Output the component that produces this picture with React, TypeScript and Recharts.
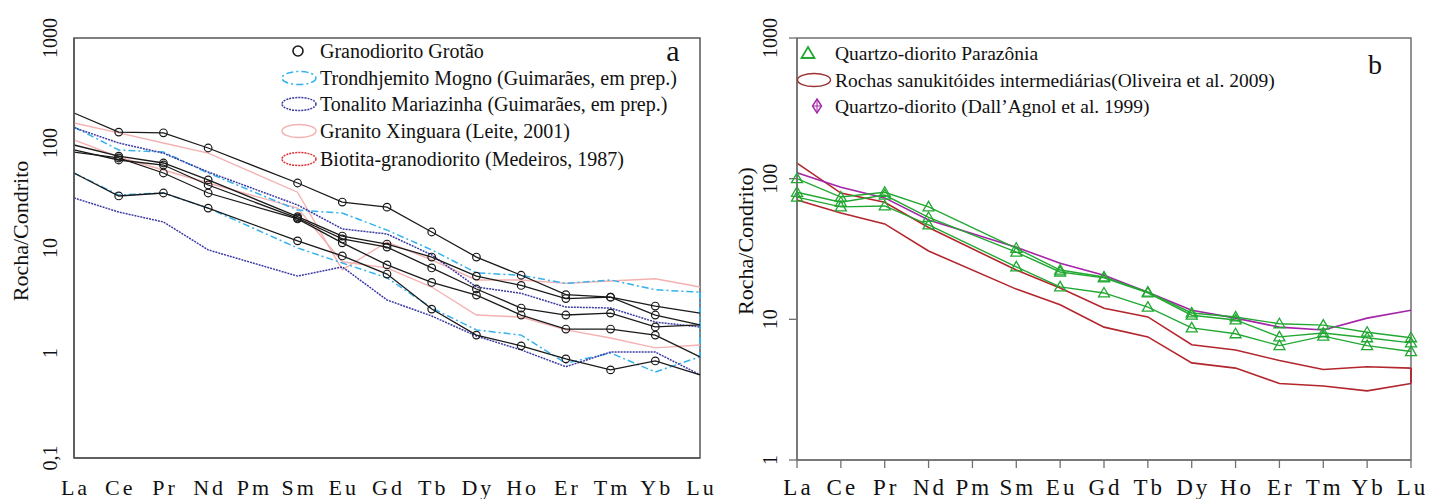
import React from 'react';
import { LineChart, Line, XAxis, YAxis, ReferenceArea, ReferenceLine, Legend, Label } from 'recharts';

const ELEMENTS = ['La', 'Ce', 'Pr', 'Nd', 'Pm', 'Sm', 'Eu', 'Gd', 'Tb', 'Dy', 'Ho', 'Er', 'Tm', 'Yb', 'Lu'];
const X_TICKS = [0, 1, 2, 3, 4, 5, 6, 7, 8, 9, 10, 11, 12, 13, 14];
const Y_TICKS_A = [0.1, 1, 10, 100, 1000];
const Y_TICKS_B = [1, 10, 100, 1000];

// ---- Panel a: Granodiorito Grotão samples ----
const grotao1 = [193, 127, 125, 89.6, null, 41.6, 27.4, 24.5, 14.2, 8.2, 5.5, 3.6, 3.4, 2.8, 2.4];
const grotao2 = [95.7, 75, 64.5, 44.5, null, 19.9, 13.0, 10.9, 8.2, 5.4, 4.4, 3.3, 3.4, 2.3, 1.85];
const grotao3 = [85.8, 68.9, 61.7, 39.8, null, 19.3, 12.2, 10.2, 6.46, 4.07, 2.68, 2.3, 2.4, 1.77, 1.85];
const grotao4 = [82, 72, 51.8, 33.4, null, 18.9, 11.2, 6.9, 4.7, 3.56, 2.3, 1.69, 1.69, 1.48, 0.92];
const grotao5 = [51.8, 31.3, 33.4, 24, null, 11.7, 8.4, 5.65, 2.62, 1.48, 1.17, 0.88, 0.69, 0.84, 0.62];
// Trondhjemito Mogno envelope
const mognoUpper = [142, 85.8, 82, 51.8, null, 23, 21.5, 14.8, 9.6, 5.8, 5.5, 4.6, 4.96, 4.0, 3.8];
const mognoLower = [51.8, 32, 33.4, 24, null, 10, 7.2, 5.2, 2.68, 1.66, 1.48, 0.8, 1.0, 0.66, 0.92];
// Tonalito Mariazinha envelope
const mariazinhaUpper = [140, 100, 80, 53, null, 25.7, 15.2, 13.6, 8.6, 4.25, 3.7, 2.74, 2.68, 1.97, 1.77];
const mariazinhaLower = [30, 22, 17.7, 9.6, null, 5.4, 6.6, 3.2, 2.25, 1.45, 1.07, 0.74, 1.02, 1.02, 0.62];
// Granito Xinguara envelope
const xinguaraUpper = [155, 125, 100, 80, null, 34, 6.2, 11.4, 7.7, 4.96, 4.96, 4.6, 4.85, 5.1, 4.25];
const xinguaraLower = [107, 73.6, 55.3, 41.6, null, 24, 7.4, 6.46, 4.25, 2.3, 2.2, 1.66, 1.39, 1.12, 1.19];

// ---- Panel b ----
const parazonia1 = [100, 74, 80, 63, null, 32, 22.4, 20, 15.6, 11.1, 10.4, 9.3, 9.1, 8.1, 7.4];
const parazonia2 = [80, 68, 76.5, 53, null, 30, 21.7, 19.7, 15.4, 10.7, 9.9, 7.5, 8, 7.4, 6.8];
const parazonia3 = [74, 63, 64, 46.9, null, 23.6, 17, 15.4, 12.2, 8.7, 7.9, 6.5, 7.6, 6.5, 5.9];
const sanukitoidUpper = [129, 79, 68, 45, null, 22.4, 16.7, 12, 10.4, 6.6, 6.05, 5.1, 4.4, 4.6, 4.5];
const sanukitoidLower = [70.5, 57, 47.7, 30.6, null, 16.4, 12.7, 8.8, 7.5, 4.9, 4.5, 3.5, 3.36, 3.1, 3.5];
const dallAgnol = [110, 87, 73, 50.8, null, 32.6, 25, 20.6, 15.6, 11.6, 10.2, 8.8, 8.4, 10.2, 11.6];

const LAST = ELEMENTS.length - 1;

const dataA = ELEMENTS.map((el, i) => ({
  idx: i, el,
  g1: grotao1[i], g2: grotao2[i], g3: grotao3[i], g4: grotao4[i], g5: grotao5[i],
  mu: mognoUpper[i], ml: mognoLower[i],
  tu: mariazinhaUpper[i], tl: mariazinhaLower[i],
  xu: xinguaraUpper[i], xl: xinguaraLower[i],
}));

const dataB = ELEMENTS.map((el, i) => ({
  idx: i, el,
  p1: parazonia1[i], p2: parazonia2[i], p3: parazonia3[i],
  su: sanukitoidUpper[i], sl: sanukitoidLower[i],
  da: dallAgnol[i],
}));

const SERIF = '"Liberation Serif", "Times New Roman", Times, serif';
const BLACK = '#1a1a1a';
const CYAN = '#35b2ee';
const NAVY = '#3b3ba3';
const PINK = '#f5b1b1';
const RED_DOT = '#e03030';
const GREEN = '#22a832';
const DARKRED = '#b3262d';
const MAGENTA = '#a424a8';
const AXIS_A = '#555';
const AXIS_B = '#707070';

const fmtY = (v: number) => (v === 0.1 ? '0,1' : String(v));

const CircleDot = (props: any) => {
  const { cx, cy, index, value } = props;
  if (value == null || cx == null || cy == null || index === 0 || index === LAST) return <g key={`c${index}`} />;
  return <circle key={`c${index}`} cx={cx} cy={cy} r={3.8} fill="none" stroke={BLACK} strokeWidth={1.2} />;
};

const TriDot = (props: any) => {
  const { cx, cy, index, value } = props;
  if (value == null || cx == null || cy == null) return <g key={`t${index}`} />;
  return (
    <path key={`t${index}`} d={`M${cx},${cy - 5.5} L${cx + 5.5},${cy + 4} L${cx - 5.5},${cy + 4} Z`}
      fill="none" stroke={GREEN} strokeWidth={1.3} />
  );
};

const XTick = (fontSize: number) => (props: any) => {
  const { x, payload } = props;
  return (
    <text x={x + 1.5} y={495} textAnchor="middle" fill="#111"
      style={{ fontFamily: SERIF, fontSize, letterSpacing: 3 }}>
      {ELEMENTS[payload.value]}
    </text>
  );
};

const YTick = (props: any) => {
  const { y, payload } = props;
  return (
    <text transform={`translate(50,${y}) rotate(-90)`} textAnchor="middle" dominantBaseline="central" fill="#111"
      style={{ fontFamily: SERIF, fontSize: 20 }}>
      {fmtY(payload.value)}
    </text>
  );
};

const YTitle = (text: string, x: number, y: number) => () => (
  <text transform={`translate(${x},${y}) rotate(-90)`} textAnchor="middle" dominantBaseline="central" fill="#111"
    style={{ fontFamily: SERIF, fontSize: 22 }}>
    {text}
  </text>
);

const legendTextStyle = { fontFamily: SERIF } as const;

const LegendA = () => {
  const rows = [
    'Granodiorito Grotão',
    'Trondhjemito Mogno (Guimarães, em prep.)',
    'Tonalito Mariazinha (Guimarães, em prep.)',
    'Granito Xinguara (Leite, 2001)',
    'Biotita-granodiorito (Medeiros, 1987)',
  ];
  const ys = [51, 78, 104, 131, 159];
  return (
    <svg width={720} height={180} style={{ display: 'block', overflow: 'visible' }}>
      <circle cx={298} cy={ys[0]} r={5} fill="none" stroke={BLACK} strokeWidth={1.6} />
      <ellipse cx={299} cy={ys[1]} rx={17} ry={6.5} fill="none" stroke={CYAN} strokeWidth={1.5} strokeDasharray="7 3 2 3" />
      <ellipse cx={299} cy={ys[2]} rx={17} ry={6.5} fill="none" stroke={NAVY} strokeWidth={1.5} strokeDasharray="2 1" />
      <ellipse cx={299} cy={ys[3]} rx={17} ry={6.5} fill="none" stroke={PINK} strokeWidth={1.5} />
      <ellipse cx={299} cy={ys[4]} rx={17} ry={6.5} fill="none" stroke={RED_DOT} strokeWidth={1.5} strokeDasharray="2 1" />
      {rows.map((r, i) => (
        <text key={r} x={320} y={ys[i]} dominantBaseline="central" fill="#111" style={{ ...legendTextStyle, fontSize: 20 }}>{r}</text>
      ))}
      <text x={673} y={50} textAnchor="middle" dominantBaseline="central" fill="#111" style={{ ...legendTextStyle, fontSize: 30 }}>a</text>
    </svg>
  );
};

const LegendB = () => {
  const rows = [
    'Quartzo-diorito Parazônia',
    'Rochas sanukitóides intermediárias(Oliveira et al. 2009)',
    'Quartzo-diorito (Dall’Agnol et al. 1999)',
  ];
  const ys = [53, 80, 106];
  return (
    <svg width={733} height={140} style={{ display: 'block', overflow: 'visible' }}>
      <path d={`M88,${ys[0] - 6} L94.5,${ys[0] + 5} L81.5,${ys[0] + 5} Z`} fill="none" stroke={GREEN} strokeWidth={1.8} />
      <ellipse cx={94} cy={ys[1]} rx={16.5} ry={6.5} fill="none" stroke="#9c3434" strokeWidth={1.4} />
      <path d={`M97,${ys[2] - 7} L101.5,${ys[2]} L97,${ys[2] + 7} L92.5,${ys[2]} Z`} fill="none" stroke={MAGENTA} strokeWidth={1.4} />
      <line x1={97} y1={ys[2] - 7} x2={97} y2={ys[2] + 7} stroke={MAGENTA} strokeWidth={1} />
      <line x1={92.5} y1={ys[2]} x2={101.5} y2={ys[2]} stroke={MAGENTA} strokeWidth={1} />
      {rows.map((r, i) => (
        <text key={r} x={115} y={ys[i]} dominantBaseline="central" fill="#111" style={{ ...legendTextStyle, fontSize: 19.5 }}>{r}</text>
      ))}
      <text x={655} y={64} textAnchor="middle" dominantBaseline="central" fill="#111" style={{ ...legendTextStyle, fontSize: 28 }}>b</text>
    </svg>
  );
};

const lineCommon = { type: 'linear' as const, connectNulls: true, isAnimationActive: false, activeDot: false as const };

function PanelA() {
  return (
    <LineChart width={720} height={499} data={dataA} margin={{ top: 38, right: 20, bottom: 11, left: 14 }}>
      <XAxis dataKey="idx" type="number" domain={[0, 14]} ticks={X_TICKS} interval={0} height={30}
        axisLine={{ stroke: AXIS_A, strokeWidth: 1.5 }} tickLine={false} tick={XTick(22)} />
      <YAxis type="number" scale="log" domain={[0.1, 1000]} ticks={Y_TICKS_A} interval={0} width={60} allowDataOverflow
        axisLine={{ stroke: AXIS_A, strokeWidth: 1.5 }} tickLine={false} tick={YTick}
        label={<Label content={YTitle('Rocha/Condrito', 20, 231)} />} />
      <ReferenceArea x1={0} x2={14} y1={0.1} y2={1000} fill="none" stroke={AXIS_A} strokeWidth={1.5} ifOverflow="visible" />
      <Line {...lineCommon} dataKey="xu" stroke={PINK} strokeWidth={1.4} dot={false} />
      <Line {...lineCommon} dataKey="xl" stroke={PINK} strokeWidth={1.4} dot={false} />
      <Line {...lineCommon} dataKey="mu" stroke={CYAN} strokeWidth={1.5} strokeDasharray="7 3 2 3" dot={false} />
      <Line {...lineCommon} dataKey="ml" stroke={CYAN} strokeWidth={1.5} strokeDasharray="7 3 2 3" dot={false} />
      <ReferenceLine segment={[{ x: LAST, y: mognoUpper[LAST] }, { x: LAST, y: mognoLower[LAST] }]}
        stroke={CYAN} strokeWidth={1.8} strokeDasharray="7 3 2 3" ifOverflow="visible" />
      <Line {...lineCommon} dataKey="tu" stroke={NAVY} strokeWidth={1.5} strokeDasharray="2 1" dot={false} />
      <Line {...lineCommon} dataKey="tl" stroke={NAVY} strokeWidth={1.5} strokeDasharray="2 1" dot={false} />
      <Line {...lineCommon} dataKey="g1" stroke={BLACK} strokeWidth={1.3} dot={CircleDot} />
      <Line {...lineCommon} dataKey="g2" stroke={BLACK} strokeWidth={1.3} dot={CircleDot} />
      <Line {...lineCommon} dataKey="g3" stroke={BLACK} strokeWidth={1.3} dot={CircleDot} />
      <Line {...lineCommon} dataKey="g4" stroke={BLACK} strokeWidth={1.3} dot={CircleDot} />
      <Line {...lineCommon} dataKey="g5" stroke={BLACK} strokeWidth={1.3} dot={CircleDot} />
      <Legend content={LegendA} layout="horizontal" verticalAlign="middle" align="center"
        wrapperStyle={{ left: 0, top: 0, width: 720, height: 180, pointerEvents: 'none' }} />
    </LineChart>
  );
}

function PanelB() {
  return (
    <LineChart width={733} height={499} data={dataB} margin={{ top: 38, right: 42, bottom: 9, left: 17 }}>
      <XAxis dataKey="idx" type="number" domain={[0, 14]} ticks={X_TICKS} interval={0} height={30}
        axisLine={{ stroke: AXIS_B, strokeWidth: 1.5 }} tickLine={{ stroke: AXIS_B, strokeWidth: 1.3 }} tickSize={8}
        tick={XTick(23)} />
      <YAxis type="number" scale="log" domain={[1, 1000]} ticks={Y_TICKS_B} interval={0} width={60} allowDataOverflow
        axisLine={{ stroke: AXIS_B, strokeWidth: 1.5 }} tickLine={{ stroke: AXIS_B, strokeWidth: 1.3 }} tickSize={8}
        tick={YTick}
        label={<Label content={YTitle('Rocha/Condrito)', 25, 241)} />} />
      <ReferenceArea x1={0} x2={14} y1={1} y2={1000} fill="none" stroke={AXIS_B} strokeWidth={1.5} ifOverflow="visible" />
      <Line {...lineCommon} dataKey="su" stroke={DARKRED} strokeWidth={1.6} dot={false} />
      <Line {...lineCommon} dataKey="sl" stroke={DARKRED} strokeWidth={1.6} dot={false} />
      <ReferenceLine segment={[{ x: LAST, y: sanukitoidUpper[LAST] }, { x: LAST, y: sanukitoidLower[LAST] }]}
        stroke={DARKRED} strokeWidth={1.8} ifOverflow="visible" />
      <Line {...lineCommon} dataKey="da" stroke={MAGENTA} strokeWidth={1.6} dot={false} />
      <Line {...lineCommon} dataKey="p1" stroke={GREEN} strokeWidth={1.4} dot={TriDot} />
      <Line {...lineCommon} dataKey="p2" stroke={GREEN} strokeWidth={1.4} dot={TriDot} />
      <Line {...lineCommon} dataKey="p3" stroke={GREEN} strokeWidth={1.4} dot={TriDot} />
      <Legend content={LegendB} layout="horizontal" verticalAlign="middle" align="center"
        wrapperStyle={{ left: 0, top: 0, width: 733, height: 140, pointerEvents: 'none' }} />
    </LineChart>
  );
}

export default function App() {
  return (
    <div style={{ position: 'absolute', left: 0, top: 0, width: 1453, height: 499, background: '#fff', overflow: 'hidden' }}>
      <div style={{ position: 'absolute', left: 0, top: 0 }}>
        <PanelA />
      </div>
      <div style={{ position: 'absolute', left: 720, top: 0 }}>
        <PanelB />
      </div>
    </div>
  );
}
